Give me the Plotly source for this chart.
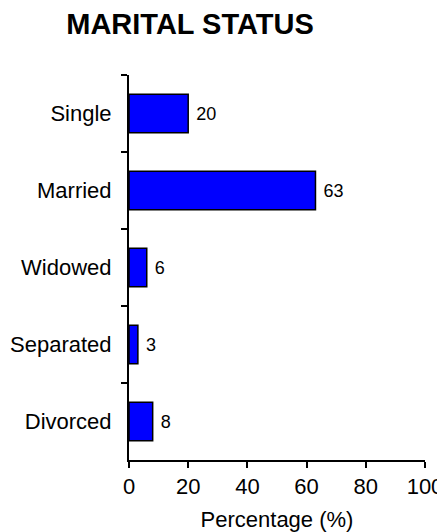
import plotly.graph_objects as go

categories = ["Single", "Married", "Widowed", "Separated", "Divorced"]
values = [20, 63, 6, 3, 8]
x_ticks = [0, 20, 40, 60, 80, 100]

# page body has an 8px default margin; figure sized to compensate
W, H = 437, 524

fig = go.Figure(go.Bar(
    x=values, y=categories, orientation="h",
    marker=dict(color="#0000FF", line=dict(color="black", width=1.5)),
    width=0.5,
    text=["\u00a0" + str(v) for v in values], textposition="outside",
    textfont=dict(size=18, color="black", family="Liberation Sans, Arial"),
    cliponaxis=False,
))

fig.update_layout(
    width=W, height=H,
    margin=dict(l=121, r=20, t=67, b=72),
    paper_bgcolor="white", plot_bgcolor="white",
    font=dict(family="Liberation Sans, Arial", color="black", size=22),
    title=dict(text="<b>MARITAL STATUS</b>", x=182/W, xanchor="center", xref="container",
               y=1-16/H, yanchor="middle", yref="container",
               font=dict(size=29, color="black")),
    showlegend=False,
    bargap=0.5,
)
fig.update_xaxes(
    range=[0, 100], tickvals=x_ticks, ticktext=[str(t) for t in x_ticks],
    showline=True, linecolor="black", linewidth=2,
    ticks="outside", ticklen=6, tickwidth=2, tickcolor="black",
    showgrid=False, zeroline=False, automargin=False,
    title=dict(text="Percentage (%)", font=dict(size=22), standoff=19),
    tickfont=dict(size=22), ticklabelstandoff=0,
)
fig.update_yaxes(
    categoryorder="array", categoryarray=categories, autorange="reversed",
    showline=True, linecolor="black", linewidth=2,
    ticks="outside", ticklen=6, tickwidth=2, tickcolor="black",
    tickson="boundaries", showgrid=False, zeroline=False, automargin=False,
    tickfont=dict(size=22), ticklabelstandoff=11,
)

fig.write_html("out.html")
